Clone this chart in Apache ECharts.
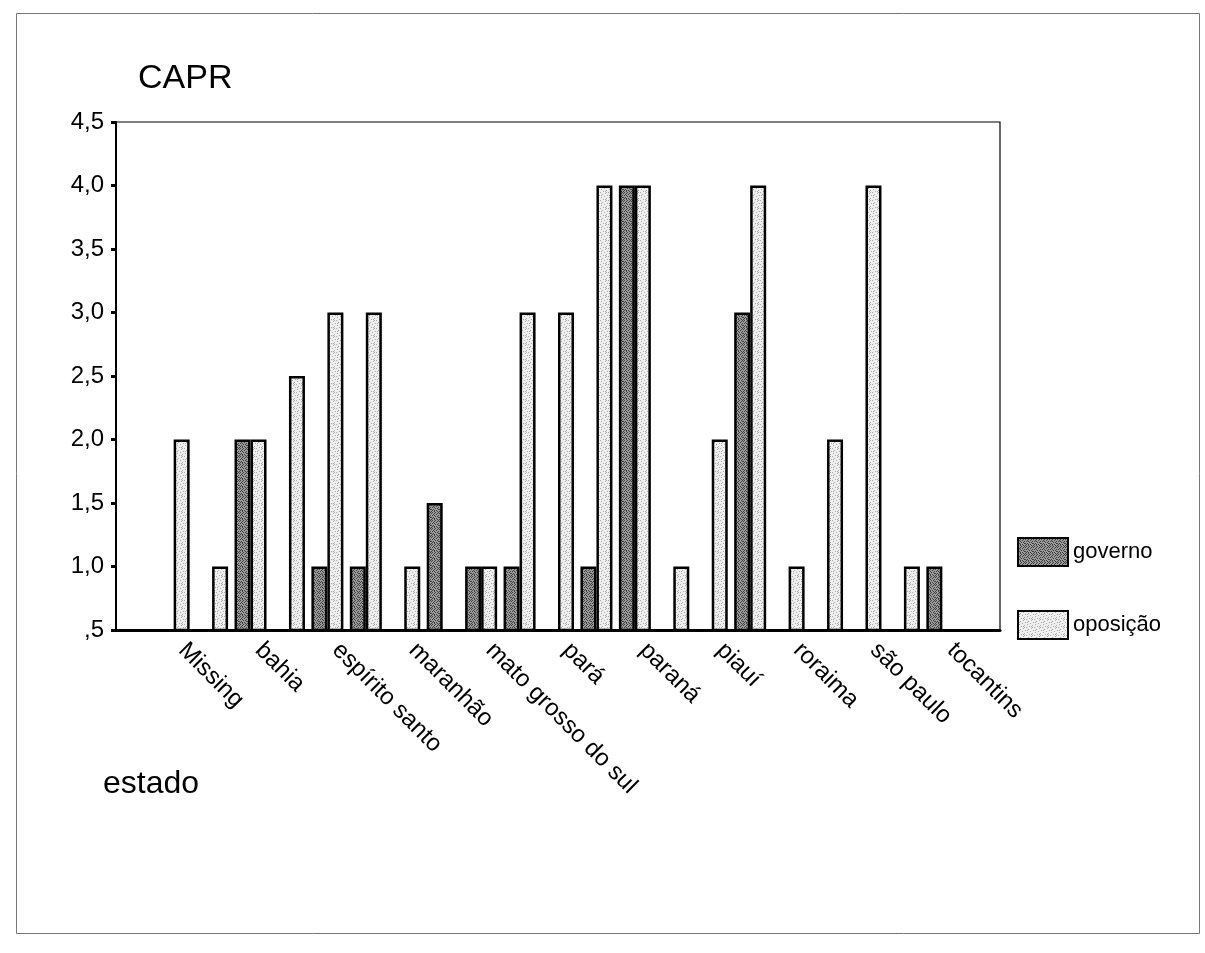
<!DOCTYPE html>
<html>
<head>
<meta charset="utf-8">
<title>CAPR por estado</title>
<script src="https://cdn.jsdelivr.net/npm/echarts@6/dist/echarts.min.js"></script>
<style>
  html, body { margin: 0; padding: 0; background: #fff; }
  #chart { width: 1205px; height: 953px; }
</style>
</head>
<body>
<div id="chart"></div>
<script>
// Estados shown on the category axis
const estados = ['Missing', 'bahia', 'espírito santo', 'maranhão', 'mato grosso do sul',
  'pará', 'paraná', 'piauí', 'roraima', 'são paulo', 'tocantins'];

// CAPR per estado: one cluster at each estado, one halfway to the next estado
const governoAt    = [null, 2.0, 1.0, null, 1.0, null, 4.0, null, null, null, 1.0];
const governoMid   = [null, null, 1.0, 1.5, 1.0, 1.0, null, 3.0, null, null];
const oposicaoAt   = [2.0, 2.0, 3.0, 1.0, 1.0, 3.0, 4.0, 2.0, 1.0, 4.0, null];
const oposicaoMid  = [1.0, 2.5, 3.0, null, 3.0, 4.0, 1.0, 4.0, 2.0, 1.0];

const yTicks = { min: 0.5, max: 4.5, step: 0.5 };

// Build the slot sequence: empty lead slot, estado, mid, estado, ..., estado, empty trail slot
const slotKeys = ['lead'];
const slotLabels = [''];
const governo = [null];
const oposicao = [null];
estados.forEach((e, i) => {
  slotKeys.push('e' + i); slotLabels.push(e);
  governo.push(governoAt[i]); oposicao.push(oposicaoAt[i]);
  if (i < estados.length - 1) {
    slotKeys.push('m' + i); slotLabels.push('');
    governo.push(governoMid[i]); oposicao.push(oposicaoMid[i]);
  }
});
slotKeys.push('trail'); slotLabels.push('');
governo.push(null); oposicao.push(null);

// Stippled fills for the two groups
function stipple(base, dotColor, rows) {
  const c = document.createElement('canvas');
  c.width = rows[0].length; c.height = rows.length;
  const g = c.getContext('2d');
  g.fillStyle = base; g.fillRect(0, 0, c.width, c.height);
  g.fillStyle = dotColor;
  rows.forEach((r, y) => { for (let x = 0; x < r.length; x++) if (r[x] === '1') g.fillRect(x, y, 1, 1); });
  return c;
}
const darkFill = stipple('#9c9c9c', '#3c3c3c', [
  '10010010', '00100101', '01001000', '10100010',
  '00010100', '01000011', '10101000', '00100101'
]);
const lightFill = stipple('#efefef', '#a8a8a8', [
  '10000010', '00000100', '00100000', '01000001',
  '00001000', '01000000', '00000010', '00010100'
]);

const FONT = 'Arial, "Liberation Sans", sans-serif';
const showEstado = (idx) => idx % 2 === 1;

const chart = echarts.init(document.getElementById('chart'), null, { renderer: 'canvas' });
chart.setOption({
  backgroundColor: '#fff',
  animation: false,
  title: [
    { text: 'CAPR', left: 138, top: 62, padding: 0, textStyle: { fontFamily: FONT, fontSize: 34, fontWeight: 'normal', color: '#000' } },
    { text: 'estado', left: 103, top: 768, padding: 0, textStyle: { fontFamily: FONT, fontSize: 32, fontWeight: 'normal', color: '#000' } }
  ],
  graphic: [{
    type: 'rect', silent: true,
    shape: { x: 16.5, y: 13.5, width: 1183, height: 920 },
    style: { fill: 'none', stroke: '#777', lineWidth: 1 }
  }],
  legend: {
    orient: 'vertical', left: 1017, top: 537, padding: 0,
    itemWidth: 50, itemHeight: 28, itemGap: 43,
    icon: 'rect',
    textStyle: { fontFamily: FONT, fontSize: 22, color: '#000' },
    data: ['governo', 'oposição']
  },
  grid: {
    left: 116, right: 205, top: 122, bottom: 323,
    show: true, borderColor: '#000', borderWidth: 1.2, backgroundColor: 'transparent'
  },
  xAxis: {
    type: 'category',
    data: slotKeys,
    boundaryGap: true,
    axisLine: { lineStyle: { color: '#000', width: 3 } },
    axisTick: { alignWithLabel: true, interval: showEstado, length: 5, lineStyle: { color: '#000', width: 4 } },
    axisLabel: {
      interval: showEstado, rotate: -45, margin: 25,
      align: 'left', verticalAlign: 'bottom',
      fontFamily: FONT, fontSize: 24, color: '#000',
      formatter: (v, idx) => slotLabels[idx]
    },
    splitLine: { show: false }
  },
  yAxis: {
    type: 'value',
    min: yTicks.min, max: yTicks.max, interval: yTicks.step,
    axisLine: { show: true, lineStyle: { color: '#000', width: 2 } },
    axisTick: { show: true, length: 5, lineStyle: { color: '#000', width: 3 } },
    axisLabel: {
      margin: 12, fontFamily: FONT, fontSize: 24, color: '#000',
      formatter: (v) => v.toFixed(1).replace('.', ',').replace(/^0/, '')
    },
    splitLine: { show: false }
  },
  series: [
    {
      name: 'governo', type: 'bar', data: governo,
      barWidth: 16, barGap: '0%',
      itemStyle: { color: { image: darkFill, repeat: 'repeat' }, borderColor: '#000', borderWidth: 2.5 }
    },
    {
      name: 'oposição', type: 'bar', data: oposicao,
      barWidth: 16, barGap: '0%',
      itemStyle: { color: { image: lightFill, repeat: 'repeat' }, borderColor: '#000', borderWidth: 2.5 }
    }
  ]
});
</script>
</body>
</html>
